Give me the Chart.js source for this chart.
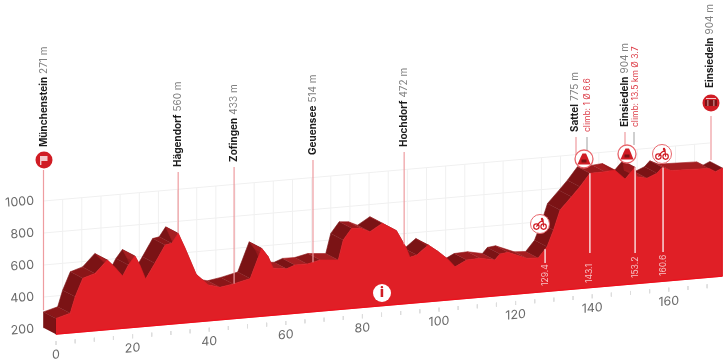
<!DOCTYPE html>
<html>
<head>
<meta charset="utf-8">
<script src="https://cdn.jsdelivr.net/npm/chart.js@4/dist/chart.umd.min.js"></script>
<style>
  html, body { margin: 0; padding: 0; background: #fff; }
  canvas { display: block; }
</style>
</head>
<body>
<canvas id="profile" width="728" height="364"></canvas>
<script>
const routeKm = [0, 3.7, 5, 7, 10.2, 13.4, 15.4, 17.4, 18.9, 20.6, 21.9, 23.4, 25.8, 28.5, 30.2, 31.9, 33.7, 35, 36.6, 39.8, 42.8, 46.3, 50.7, 53.7, 55.4, 56.7, 60.2, 62.4, 65.6, 69, 73.7, 75, 77.2, 79.6, 82, 85.2, 88.9, 91.5, 92.4, 94.2, 97.2, 99.8, 102.4, 104.2, 107.2, 110.7, 114.6, 115.9, 118, 122.9, 125.9, 128.2, 129.9, 131.6, 134.6, 136.8, 139.4, 143.3, 145.9, 148.6, 151.2, 151.6, 154.3, 156.9, 158.3, 160.5, 170.5, 172.2, 174];
const routeElev = [307, 331, 432, 543, 567, 644, 594, 536, 601, 654, 595, 504, 597, 706, 713, 772, 675, 599, 506, 432, 412, 426, 450, 633, 577, 502, 491, 511, 510, 528, 518, 641, 709, 704, 678, 724, 669, 554, 496, 506, 563, 516, 462, 412, 448, 452, 433, 468, 474, 426, 422, 487, 589, 710, 787, 845, 923, 925, 930, 868, 936, 876, 861, 887, 921, 896, 889, 865, 884];

const elevTicks = [200, 400, 600, 800, 1000];
const kmTicks = [0, 20, 40, 60, 80, 100, 120, 140, 160];

const townNames = ['Hägendorf', 'Zofingen', 'Geuensee', 'Hochdorf'];
const townHeights = ['560 m', '433 m', '514 m', '472 m'];
const townKm = [31.9, 46.5, 67.1, 90.9];

const markLabels = ['129.4', '143.1', '153.2', '160.6'];
const markKm = [127.7, 139.4, 151.2, 158.5];

// projection of the drawing: a sheared front face, with the back face shifted up-left
const pxPerKm = 3.83;
const pxPerM = 0.16;
const tiltPx = 0.3336;       // the base rises this many px per km
const backDx = 12.5, backDy = 6.5;
const floorElev = 208;

const kmFromPx = px => (px - 56) / pxPerKm;
const yFromPx = py => 200 + (329 - py) / pxPerM;
const tilt = km => km * tiltPx / pxPerM;

const front = (km, e) => ({ x: km, y: e - backDy / pxPerM + tilt(km) });
const back = (km, e) => ({ x: km - backDx / pxPerKm, y: e + tilt(km) });
const gap = { x: 0, y: null };

function ridgeAt(km) {
  for (let i = 1; i < routeKm.length; i++) {
    if (km <= routeKm[i]) {
      const t = (km - routeKm[i - 1]) / (routeKm[i] - routeKm[i - 1]);
      return routeElev[i - 1] + t * (routeElev[i] - routeElev[i - 1]);
    }
  }
  return routeElev[routeElev.length - 1];
}

function shape(points, color, order) {
  return { data: points, backgroundColor: color, borderColor: color, borderWidth: 0.6, fill: 'shape', order: order };
}

function lines(points, color, width, order) {
  return { data: points, borderColor: color, borderWidth: width, fill: false, order: order };
}

const datasets = [];

// grid on the back plane
const grid = [];
for (let km = 0; km <= 170; km += 5) grid.push(back(km, 200), back(km, 1000), gap);
[400, 600, 800, 1000].forEach(e => grid.push(back(0, e), back(174, e), gap));
datasets.push(lines(grid, '#f0f0f0', 1, 1000));

// small km dashes under the base
const dashes = [];
for (let km = 0; km <= 170; km += 5) {
  const py = 341 - km * tiltPx;
  dashes.push({ x: km, y: yFromPx(py) }, { x: km, y: yFromPx(py + 4) }, gap);
}
datasets.push(lines(dashes, '#dddddd', 1, 900));

// top of the road: one dark band per stretch
for (let i = 1; i < routeKm.length; i++) {
  const a = routeKm[i - 1], b = routeKm[i];
  const rise = (routeElev[i] - routeElev[i - 1]) / (b - a);
  let color = i % 2 ? '#9a1a1d' : '#a51e21';
  if (rise > 8) color = '#7b1315';
  else if (rise > 2) color = '#8a1618';
  datasets.push(shape([back(a, routeElev[i - 1]), back(b, routeElev[i]), front(b, routeElev[i]), front(a, routeElev[i - 1])], color, 500 - i));
}

// left end wall
datasets.push(shape([back(0, floorElev), back(0, routeElev[0]), front(0, routeElev[0]), front(0, floorElev)], '#7b1315', 100));

// red front face
const facePoints = routeKm.map((km, i) => front(km, routeElev[i]));
facePoints.push(front(174, floorElev), front(0, floorElev));
datasets.push(shape(facePoints, '#e01f26', 50));
datasets.push(lines([front(0, floorElev), front(174, floorElev)], '#ee0f1c', 1.2, 49));

// pale stems above the profile
const stems = [];
const stemTops = [172, 167, 160, 152];
townKm.forEach((km, i) => stems.push({ x: km, y: yFromPx(stemTops[i]) }, front(km, ridgeAt(km)), gap));
stems.push({ x: kmFromPx(43.5), y: yFromPx(170) }, { x: kmFromPx(43.5), y: yFromPx(310) }, gap);
stems.push({ x: kmFromPx(711), y: yFromPx(116) }, { x: kmFromPx(711), y: yFromPx(160) }, gap);
stems.push({ x: kmFromPx(576), y: yFromPx(137) }, { x: kmFromPx(576), y: yFromPx(155) }, gap);
stems.push({ x: kmFromPx(625), y: yFromPx(132) }, { x: kmFromPx(625), y: yFromPx(147) }, gap);
datasets.push(lines(stems, '#ee9ca0', 1.2, 40));

const greyStems = [];
greyStems.push({ x: kmFromPx(587), y: yFromPx(137) }, { x: kmFromPx(587), y: yFromPx(150) }, gap);
greyStems.push({ x: kmFromPx(634), y: yFromPx(132) }, { x: kmFromPx(634), y: yFromPx(145) }, gap);
datasets.push(lines(greyStems, '#c9c9c9', 1, 40));

// intermediate marks on the face
const markBottoms = [263, 253, 253, 252];
const marks = [];
markKm.forEach((km, i) => marks.push(front(km, ridgeAt(km)), { x: km, y: yFromPx(markBottoms[i]) }, gap));
datasets.push(lines(marks, 'rgba(255,255,255,0.55)', 1, 10));

function rotatedText(ctx, x, yBottom, parts) {
  ctx.save();
  ctx.translate(x, yBottom);
  ctx.rotate(-Math.PI / 2);
  ctx.textAlign = 'left';
  ctx.textBaseline = 'middle';
  let pos = 0;
  parts.forEach(p => {
    ctx.font = p.font;
    ctx.fillStyle = p.color;
    ctx.fillText(p.text, pos, 0);
    pos += ctx.measureText(p.text).width + 3;
  });
  ctx.restore();
}

function disc(ctx, x, y, r, fill, stroke, width) {
  ctx.beginPath();
  ctx.arc(x, y, r, 0, Math.PI * 2);
  ctx.fillStyle = fill;
  ctx.fill();
  if (stroke) {
    ctx.strokeStyle = stroke;
    ctx.lineWidth = width;
    ctx.stroke();
  }
}

function mountainIcon(ctx, x, y) {
  disc(ctx, x, y, 9, '#fff', '#e8666c', 1.3);
  ctx.fillStyle = '#d01c24';
  ctx.beginPath();
  ctx.moveTo(x - 6.5, y + 5.5);
  ctx.lineTo(x - 3.5, y - 1.5);
  ctx.lineTo(x - 1.5, y - 5.5);
  ctx.lineTo(x + 2, y - 5.5);
  ctx.lineTo(x + 4, y - 1);
  ctx.lineTo(x + 6.5, y + 5.5);
  ctx.closePath();
  ctx.fill();
  ctx.fillStyle = '#7b1315';
  ctx.fillRect(x - 2.5, y + 0.5, 5, 3);
}

function bikeIcon(ctx, x, y) {
  disc(ctx, x, y, 9.5, '#fff', '#e8666c', 1);
  ctx.strokeStyle = '#d01c24';
  ctx.lineWidth = 1.2;
  ctx.beginPath();
  ctx.arc(x - 3.6, y + 2.6, 2.7, 0, Math.PI * 2);
  ctx.moveTo(x + 6.3, y + 2.6);
  ctx.arc(x + 3.6, y + 2.6, 2.7, 0, Math.PI * 2);
  ctx.moveTo(x - 3.6, y + 2.6);
  ctx.lineTo(x - 0.5, y - 1.5);
  ctx.lineTo(x + 3, y - 4);
  ctx.lineTo(x + 3.6, y + 2.6);
  ctx.stroke();
  disc(ctx, x + 2, y - 5, 1.2, '#d01c24');
}

const routeMarks = {
  id: 'routeMarks',
  afterDatasetsDraw(chart) {
    const { ctx } = chart;
    const xs = chart.scales.x;
    const ys = chart.scales.y;
    const fontFamily = 'Inter, "Liberation Sans", sans-serif';
    const bold = '700 10px ' + fontFamily;
    const thin = '400 10px ' + fontFamily;
    const nameCol = '#1c1c1c', heightCol = '#808080', climbCol = '#dc3a45';

    // km labels follow the tilted base
    kmTicks.forEach(km => {
      ctx.save();
      ctx.transform(1, -0.087, 0, 1, xs.getPixelForValue(km), ys.getPixelForValue(yFromPx(355 - km * tiltPx)));
      ctx.font = '400 12.5px ' + fontFamily;
      ctx.fillStyle = '#6a6a6a';
      ctx.textAlign = 'center';
      ctx.textBaseline = 'middle';
      ctx.fillText(String(km), 0, 0);
      ctx.restore();
    });

    // town labels
    const townBottoms = [167, 162, 155, 147];
    townNames.forEach((name, i) => {
      rotatedText(ctx, xs.getPixelForValue(townKm[i]), townBottoms[i], [
        { text: name, font: bold, color: nameCol },
        { text: townHeights[i], font: thin, color: heightCol }
      ]);
    });
    rotatedText(ctx, 44, 147, [{ text: 'Münchenstein', font: bold, color: nameCol }, { text: '271 m', font: thin, color: heightCol }]);
    rotatedText(ctx, 710, 88, [{ text: 'Einsiedeln', font: bold, color: nameCol }, { text: '904 m', font: thin, color: heightCol }]);
    rotatedText(ctx, 575, 132, [{ text: 'Sattel', font: bold, color: nameCol }, { text: '775 m', font: thin, color: heightCol }]);
    rotatedText(ctx, 625, 127, [{ text: 'Einsiedeln', font: bold, color: nameCol }, { text: '904 m', font: thin, color: heightCol }]);
    rotatedText(ctx, 587, 132, [{ text: 'climb: 1 Ø 6.6', font: '400 8.5px ' + fontFamily, color: climbCol }]);
    rotatedText(ctx, 635, 127, [{ text: 'climb: 13.5 km Ø 3.7', font: '400 8.5px ' + fontFamily, color: climbCol }]);

    // km marks written on the red face
    const markTextBottoms = [286, 283, 278, 276];
    markLabels.forEach((label, i) => {
      rotatedText(ctx, xs.getPixelForValue(markKm[i]), markTextBottoms[i], [{ text: label, font: '400 8.5px ' + fontFamily, color: '#f6c3c5' }]);
    });

    // icons
    disc(ctx, 44, 160, 8.5, '#d01c24');
    ctx.fillStyle = '#f3c9cb';
    ctx.fillRect(40, 156, 7.5, 5);
    ctx.fillRect(40, 156, 1.4, 9);

    disc(ctx, 711, 103, 8.5, '#d01c24');
    ctx.fillStyle = '#7b1315';
    ctx.fillRect(705, 100, 12, 6);
    ctx.fillStyle = '#f3c9cb';
    ctx.fillRect(706, 98, 10, 1);
    ctx.fillRect(707.5, 100, 0.8, 6);
    ctx.fillRect(713.5, 100, 0.8, 6);

    mountainIcon(ctx, 584, 159);
    mountainIcon(ctx, 627, 154);
    bikeIcon(ctx, 540, 224);
    bikeIcon(ctx, 662, 154);

    disc(ctx, 382, 293, 9, '#fff');
    ctx.fillStyle = '#d01c24';
    ctx.font = '900 13px ' + fontFamily;
    ctx.textAlign = 'center';
    ctx.textBaseline = 'middle';
    ctx.fillText('i', 382, 293.5);
  }
};

new Chart(document.getElementById('profile'), {
  type: 'line',
  data: { datasets: datasets },
  plugins: [routeMarks],
  options: {
    responsive: false,
    animation: false,
    events: [],
    clip: false,
    elements: { point: { radius: 0 }, line: { tension: 0 } },
    layout: { padding: 0 },
    plugins: { legend: { display: false }, tooltip: { enabled: false } },
    scales: {
      x: { type: 'linear', display: false, min: kmFromPx(43), max: kmFromPx(728) },
      y: {
        type: 'linear',
        min: yFromPx(364),
        max: yFromPx(0),
        grid: { display: false, drawTicks: false },
        border: { display: false },
        afterBuildTicks: s => { s.ticks = elevTicks.map(v => ({ value: v })); },
        // the axis sits flush: no room reserved for half labels above and below
        afterFit: s => { s.width = 43; s.paddingTop = 0; s.paddingBottom = 0; },
        ticks: {
          color: '#6a6a6a',
          padding: 9,
          minRotation: 4,
          maxRotation: 4,
          callback: v => String(v),
          font: { family: 'Inter, "Liberation Sans", sans-serif', size: 12.5 }
        }
      }
    }
  }
});
</script>
</body>
</html>
